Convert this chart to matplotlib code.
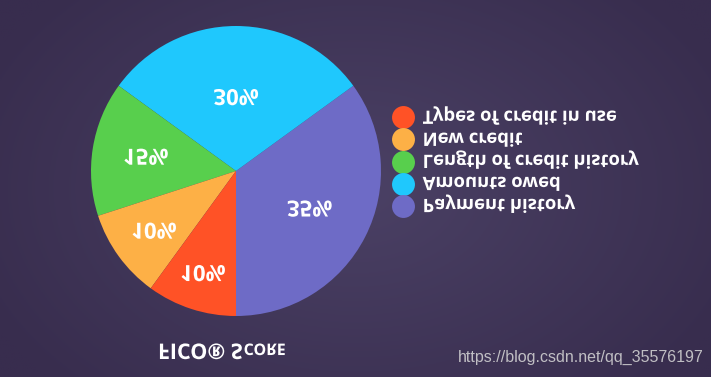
import numpy as np
import matplotlib
matplotlib.use("Agg")
import matplotlib.pyplot as plt
from matplotlib import patheffects
from matplotlib.transforms import Affine2D
from matplotlib.lines import Line2D

# ---- data ----
categories = ["Payment history", "Amounts owed", "Length of credit history",
              "New credit", "Types of credit in use"]
shares = [35, 30, 15, 10, 10]
colors = ["#6e6bc6", "#1fc8fd", "#58cf4d", "#fdb046", "#ff5226"]
label_dist = [0.57, 0.51, 0.63, 0.70, 0.74]
title_big = "FICO\u00ae S"
title_small = "CORE"
watermark = "https://blog.csdn.net/qq_35576197"

FONT = "Open Sans"
CAP = 71.4


class VFlip(patheffects.AbstractPathEffect):
    """Mirror glyphs vertically about the cap-height band."""
    def __init__(self, c=CAP):
        super().__init__()
        self.c = c

    def draw_path(self, renderer, gc, tpath, affine, rgbFace=None):
        flip = Affine2D().scale(1, -1).translate(0, self.c)
        renderer.draw_path(gc, tpath, flip + affine, rgbFace)


W, H = 711, 377
fig = plt.figure(figsize=(W / 100, H / 100), dpi=100)

# background gradient
bg = fig.add_axes([0, 0, 1, 1], zorder=-10)
yy, xx = np.mgrid[0:1:200j, 0:1:380j]
d = np.sqrt(((xx - 0.5) * 1.3) ** 2 + ((yy - 0.5)) ** 2)
d = np.clip(d / 0.75, 0, 1)
c_in = np.array([0x4b, 0x41, 0x65]) / 255
c_out = np.array([0x38, 0x2d, 0x4e]) / 255
img = c_in[None, None, :] * (1 - d[..., None]) + c_out[None, None, :] * d[..., None]
bg.imshow(img, aspect="auto", extent=[0, 1, 0, 1])
bg.set_axis_off()

# pie
cx, cy, r = 236, 377 - 171, 145
ax = fig.add_axes([(cx - r) / W, (cy - r) / H, 2 * r / W, 2 * r / H])
wedges, _ = ax.pie(shares, colors=colors, startangle=-90, counterclock=True,
                   radius=1.0, wedgeprops=dict(linewidth=0))
ax.set_xlim(-1, 1)
ax.set_ylim(-1, 1)
ax.set_axis_off()

for w, v, dist in zip(wedges, shares, label_dist):
    ang = np.deg2rad((w.theta1 + w.theta2) / 2)
    ax.text(dist * np.cos(ang), dist * np.sin(ang), f"{v}%", color="white",
            fontsize=16, fontweight="bold", family=FONT,
            ha="center", va="center_baseline",
            path_effects=[VFlip()])

# legend (order as shown top to bottom)
order = [4, 3, 2, 1, 0]
handles = [Line2D([], [], ls="", marker="o", markersize=16.5,
                  markerfacecolor=colors[i], markeredgewidth=0) for i in order]
labels = [categories[i] for i in order]
leg = fig.legend(handles, labels, loc="center left",
                 bbox_to_anchor=(394 / W, 1 - 163 / H), frameon=False,
                 prop=dict(family=FONT, weight="bold", size=13.3),
                 labelcolor="white", handlelength=0.95, handletextpad=0.6,
                 labelspacing=0.22, borderpad=0, borderaxespad=0)
for t in leg.get_texts():
    t.set_path_effects([VFlip()])

# title in small caps (flipped)
base_y = 1 - 359 / H
t1 = fig.text(158 / W, base_y, title_big, color="white", fontsize=15.5,
              fontweight="bold", family=FONT, ha="left", va="baseline",
              path_effects=[VFlip()])
fig.canvas.draw()
x_end = t1.get_window_extent().x1 / W
fig.text(x_end + 1 / W, base_y, title_small, color="white", fontsize=11.5,
         fontweight="bold", family=FONT, ha="left", va="baseline",
         path_effects=[VFlip(CAP * 15.5 / 11.5)])

# watermark
fig.text(458 / W, 1 - 362 / H, watermark, color="#d8d8d8", alpha=0.85,
         fontsize=11.5, family="Liberation Sans", ha="left", va="baseline")

fig.savefig("out.png", dpi=100)
